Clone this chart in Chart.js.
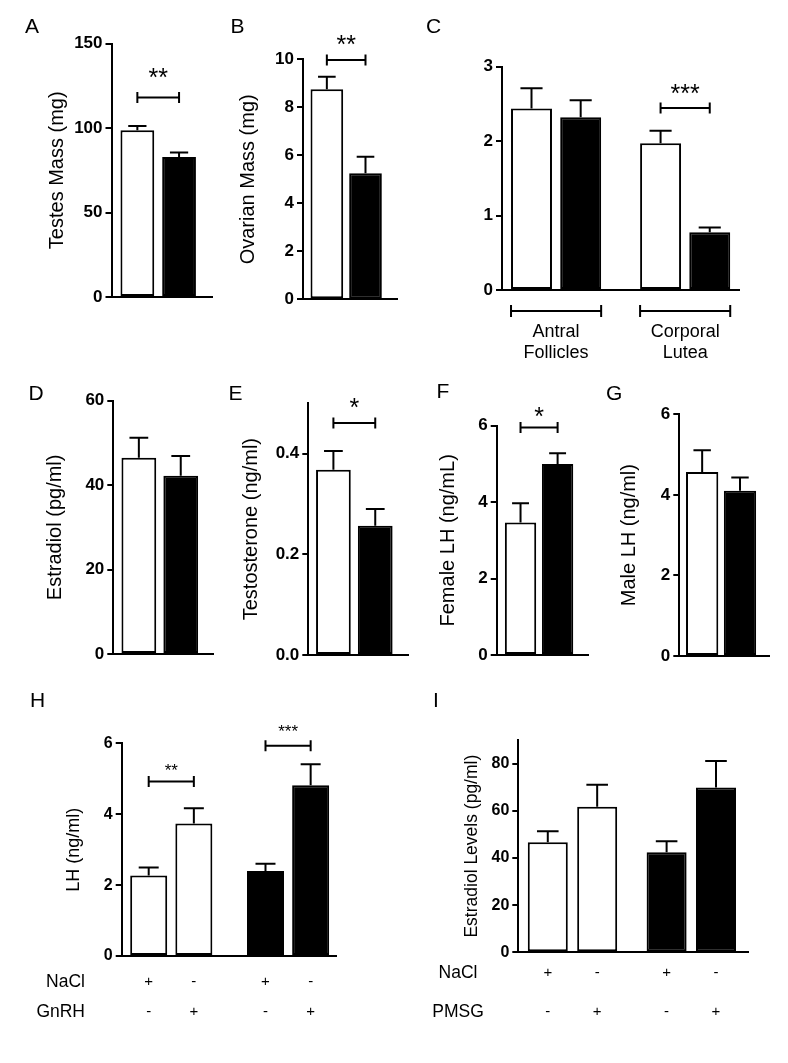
<!DOCTYPE html>
<html>
<head>
<meta charset="utf-8">
<script src="https://cdn.jsdelivr.net/npm/chart.js@4.4.1/dist/chart.umd.min.js"></script>
<style>
  html, body { margin: 0; padding: 0; background: #fff; }
  #fig { position: relative; width: 788px; height: 1063px; overflow: hidden; }
  #fig canvas { position: absolute; }
</style>
</head>
<body>
<div id="fig"></div>
<script>
// values are [control (white), mutant (black)]
// A - testes mass
const testesMass = [98.6, 82.9];
const testesSem = [2.6, 2.6];
const testesTicks = [0, 50, 100, 150];
// B - ovarian mass
const ovaryMass = [8.75, 5.25];
const ovarySem = [0.52, 0.69];
const ovaryTicks = [0, 2, 4, 6, 8, 10];
// C - ovarian structures
const structures = [['Antral', 'Follicles'], ['Corporal', 'Lutea']];
const structWhite = [2.44, 1.97];
const structWhiteSem = [0.27, 0.17];
const structBlack = [2.32, 0.775];
const structBlackSem = [0.23, 0.065];
const structTicks = [0, 1, 2, 3];
// D - estradiol
const estradiol = [46.5, 42.2];
const estradiolSem = [4.7, 4.7];
const estradiolTicks = [0, 20, 40, 60];
// E - testosterone
const testosterone = [0.368, 0.257];
const testosteroneSem = [0.037, 0.033];
const testosteroneTicks = [0, 0.2, 0.4];
// F - female LH
const femaleLH = [3.47, 5.0];
const femaleLHSem = [0.5, 0.28];
// G - male LH
const maleLH = [4.57, 4.10];
const maleLHSem = [0.54, 0.33];
const lhTicks = [0, 2, 4, 6];
// H - LH after GnRH challenge, [NaCl, GnRH]
const gnrhWhite = [2.27, 3.74];
const gnrhWhiteSem = [0.23, 0.43];
const gnrhBlack = [2.40, 4.82];
const gnrhBlackSem = [0.20, 0.59];
const naclRowH = ['+', '-', '+', '-'];
const gnrhRow = ['-', '+', '-', '+'];
// I - estradiol after PMSG, [NaCl, PMSG]
const pmsgWhite = [46.7, 61.7];
const pmsgWhiteSem = [4.6, 9.3];
const pmsgBlack = [42.4, 69.9];
const pmsgBlackSem = [4.7, 11.2];
const naclRowI = ['+', '-', '+', '-'];
const pmsgRow = ['-', '+', '-', '+'];
const e2Ticks = [0, 20, 40, 60, 80];

const FONT = "Arial, 'Liberation Sans', Helvetica, sans-serif";
const fig = document.getElementById('fig');

// one white bar and one black bar
function pair(vals, sems) {
  return [
    { x: [0], y: [vals[0]], e: [sems[0]], color: '#fff' },
    { x: [1], y: [vals[1]], e: [sems[1]], color: '#000' },
  ];
}

function extrasFor(p) {
  return {
    id: 'extras',
    afterDraw(chart) {
      const ctx = chart.ctx, xs = chart.scales.x, ys = chart.scales.y, ca = chart.chartArea;
      ctx.save();
      ctx.strokeStyle = '#000';
      ctx.fillStyle = '#000';
      ctx.lineWidth = 2;

      // error bars (upper only)
      const centers = [];
      chart.data.datasets.forEach((ds, di) => {
        chart.getDatasetMeta(di).data.forEach((bar, i) => {
          const top = ys.getPixelForValue(ds.data[i].y + ds.sem[i]);
          const half = bar.width * 0.27;
          ctx.beginPath();
          ctx.moveTo(bar.x, bar.y);
          ctx.lineTo(bar.x, top);
          ctx.moveTo(bar.x - half, top);
          ctx.lineTo(bar.x + half, top);
          ctx.stroke();
          centers.push(bar.x);
        });
      });

      // significance brackets
      (p.brackets || []).forEach(b => {
        const xa = xs.getPixelForValue(b.from), xb = xs.getPixelForValue(b.to);
        const y = ys.getPixelForValue(b.at);
        ctx.beginPath();
        ctx.moveTo(xa, y); ctx.lineTo(xb, y);
        ctx.moveTo(xa, y - 5.5); ctx.lineTo(xa, y + 5.5);
        ctx.moveTo(xb, y - 5.5); ctx.lineTo(xb, y + 5.5);
        ctx.stroke();
        ctx.font = b.size + 'px ' + FONT;
        ctx.textAlign = 'center';
        ctx.textBaseline = 'alphabetic';
        ctx.fillText(b.label, (xa + xb) / 2, y - b.gap + 0.59 * b.size);
      });

      // group brackets with labels under the axis (panel C)
      if (p.groups) {
        const w = chart.getDatasetMeta(0).data, k = chart.getDatasetMeta(1).data;
        p.groups.forEach((lines, g) => {
          const l = w[g].x - w[g].width / 2, r = k[g].x + k[g].width / 2;
          const y = ca.bottom + 21;
          ctx.beginPath();
          ctx.moveTo(l, y); ctx.lineTo(r, y);
          ctx.moveTo(l, y - 6); ctx.lineTo(l, y + 6);
          ctx.moveTo(r, y - 6); ctx.lineTo(r, y + 6);
          ctx.stroke();
          ctx.font = '18px ' + FONT;
          ctx.textAlign = 'center';
          ctx.textBaseline = 'alphabetic';
          lines.forEach((t, j) => ctx.fillText(t, (l + r) / 2, ca.bottom + 47 + j * 21));
        });
      }

      // treatment rows (+/-) under each bar (panels H, I)
      (p.rows || []).forEach(row => {
        const y = ca.bottom + row.dy;
        ctx.textBaseline = 'middle';
        ctx.font = '17.5px ' + FONT;
        ctx.textAlign = p.rowAlign;
        ctx.fillText(row.label, p.rowX - p.box.left, y);
        ctx.font = '15px ' + FONT;
        ctx.textAlign = 'center';
        row.signs.forEach((s, i) => ctx.fillText(s, centers[i], y));
      });

      // panel letter
      ctx.font = '21px ' + FONT;
      ctx.textAlign = 'left';
      ctx.textBaseline = 'alphabetic';
      ctx.fillText(p.letter.text, p.letter.x - p.box.left, p.letter.y - p.box.top);
      ctx.restore();
    }
  };
}

function drawPanel(p) {
  const cv = document.createElement('canvas');
  cv.width = p.box.w;
  cv.height = p.box.h;
  cv.style.left = p.box.left + 'px';
  cv.style.top = p.box.top + 'px';
  fig.appendChild(cv);
  const a = p.axis;
  const tickSize = p.tickSize || 17;
  const titleSize = p.titleSize || 20;

  new Chart(cv, {
    type: 'bar',
    data: {
      datasets: p.series.map(s => ({
        data: s.x.map((x, i) => ({ x: x, y: s.y[i] })),
        sem: s.e,
        backgroundColor: s.color,
        borderColor: '#000',
        borderWidth: 2,
        borderSkipped: false,
        grouped: false,
        categoryPercentage: 1,
        barPercentage: p.barPct,
      })),
    },
    options: {
      responsive: false,
      animation: false,
      events: [],
      layout: {
        autoPadding: false,
        padding: {
          left: 0,
          top: a.y0 - p.box.top,
          right: p.box.left + p.box.w - a.x1,
          bottom: p.box.top + p.box.h - a.y1,
        },
      },
      plugins: { legend: { display: false }, tooltip: { enabled: false } },
      scales: {
        x: {
          type: 'linear',
          min: p.xMin,
          max: p.xMax,
          offset: false,
          grid: { display: false },
          ticks: { display: false },
          border: { display: true, color: '#000', width: 2 },
          afterBuildTicks: s => { s.ticks = []; },
          afterFit: s => {
            s.height = 0;
            s.paddingLeft = s.paddingRight = s.paddingTop = s.paddingBottom = 0;
          },
        },
        y: {
          min: 0,
          max: p.yMax,
          grid: { drawOnChartArea: false, color: '#000', lineWidth: 2, tickLength: 6 },
          border: { color: '#000', width: 2 },
          ticks: {
            autoSkip: false,
            color: '#000',
            padding: 3,
            font: { family: FONT, size: tickSize, weight: 'bold' },
            callback: v => Number(v).toFixed(p.dec || 0),
          },
          afterBuildTicks: s => { s.ticks = p.yTicks.map(v => ({ value: v })); },
          afterFit: s => {
            s.width = a.x0 - p.box.left;
            s.paddingTop = s.paddingBottom = 0;
          },
          title: p.yTitle ? {
            display: true,
            text: p.yTitle,
            color: '#000',
            font: { family: FONT, size: titleSize, lineHeight: 1 },
            padding: { top: p.titleX - p.box.left - titleSize / 2, bottom: 0 },
          } : { display: false },
        },
      },
    },
    plugins: [extrasFor(p)],
  });
}

const panels = [
  {
    box: { left: 0, top: 0, w: 225, h: 320 },
    axis: { x0: 111.5, y0: 43.5, x1: 212, y1: 297 },
    yMax: 150, yTicks: testesTicks,
    yTitle: 'Testes Mass (mg)', titleX: 57,
    xMin: -0.62, xMax: 1.79, barPct: 0.81,
    series: pair(testesMass, testesSem),
    brackets: [{ from: 0, to: 1, at: 118, label: '**', gap: 26.5, size: 25 }],
    letter: { text: 'A', x: 25, y: 33 },
  },
  {
    box: { left: 225, top: 0, w: 185, h: 320 },
    axis: { x0: 303, y0: 59.3, x1: 397, y1: 299.3 },
    yMax: 10, yTicks: ovaryTicks,
    yTitle: 'Ovarian Mass (mg)', titleX: 248,
    xMin: -0.617, xMax: 1.815, barPct: 0.845,
    series: pair(ovaryMass, ovarySem),
    brackets: [{ from: 0, to: 1, at: 9.97, label: '**', gap: 22, size: 25 }],
    letter: { text: 'B', x: 230.5, y: 33 },
  },
  {
    box: { left: 410, top: 0, w: 378, h: 370 },
    axis: { x0: 502, y0: 66.7, x1: 739, y1: 290 },
    yMax: 3, yTicks: structTicks,
    xMin: -0.6, xMax: 4.22, barPct: 0.833,
    series: [
      { x: structures.map((_, g) => g * 2.625), y: structWhite, e: structWhiteSem, color: '#fff' },
      { x: structures.map((_, g) => g * 2.625 + 1), y: structBlack, e: structBlackSem, color: '#000' },
    ],
    brackets: [{ from: 2.625, to: 3.625, at: 2.444, label: '***', gap: 21, size: 25 }],
    groups: structures,
    letter: { text: 'C', x: 426, y: 33 },
  },
  {
    box: { left: 0, top: 370, w: 225, h: 300 },
    axis: { x0: 113.3, y0: 400.7, x1: 213, y1: 654 },
    yMax: 60, yTicks: estradiolTicks,
    yTitle: 'Estradiol (pg/ml)', titleX: 55,
    xMin: -0.61, xMax: 1.77, barPct: 0.83,
    series: pair(estradiol, estradiolSem),
    letter: { text: 'D', x: 28.5, y: 400 },
  },
  {
    box: { left: 225, top: 370, w: 190, h: 300 },
    axis: { x0: 308.3, y0: 403.3, x1: 408.3, y1: 655 },
    yMax: 0.5, yTicks: testosteroneTicks, dec: 1,
    yTitle: 'Testosterone (ng/ml)', titleX: 251.7,
    xMin: -0.6, xMax: 1.79, barPct: 0.83,
    series: pair(testosterone, testosteroneSem),
    brackets: [{ from: 0, to: 1, at: 0.461, label: '*', gap: 21.6, size: 25 }],
    letter: { text: 'E', x: 228.5, y: 400 },
  },
  {
    box: { left: 415, top: 370, w: 180, h: 300 },
    axis: { x0: 496.7, y0: 425.7, x1: 588, y1: 655 },
    yMax: 6, yTicks: lhTicks,
    yTitle: 'Female LH (ng/mL)', titleX: 448.8,
    xMin: -0.643, xMax: 1.82, barPct: 0.845,
    series: pair(femaleLH, femaleLHSem),
    brackets: [{ from: 0, to: 1, at: 5.95, label: '*', gap: 17.7, size: 25 }],
    letter: { text: 'F', x: 436.5, y: 398 },
  },
  {
    box: { left: 595, top: 370, w: 193, h: 300 },
    axis: { x0: 679.3, y0: 414.3, x1: 769.3, y1: 656 },
    yMax: 6, yTicks: lhTicks,
    yTitle: 'Male LH (ng/ml)', titleX: 629,
    xMin: -0.604, xMax: 1.774, barPct: 0.853,
    series: pair(maleLH, maleLHSem),
    letter: { text: 'G', x: 606, y: 399.5 },
  },
  {
    box: { left: 0, top: 670, w: 400, h: 393 },
    axis: { x0: 121.7, y0: 743.3, x1: 336.7, y1: 956 },
    yMax: 6, yTicks: lhTicks, tickSize: 16,
    yTitle: 'LH (ng/ml)', titleX: 74, titleSize: 18,
    xMin: -0.598, xMax: 4.164, barPct: 0.82,
    series: [
      { x: gnrhWhite.map((_, c) => c), y: gnrhWhite, e: gnrhWhiteSem, color: '#fff' },
      { x: gnrhBlack.map((_, c) => 2.587 + c), y: gnrhBlack, e: gnrhBlackSem, color: '#000' },
    ],
    brackets: [
      { from: 0, to: 1, at: 4.92, label: '**', gap: 16, size: 17 },
      { from: 2.587, to: 3.587, at: 5.93, label: '***', gap: 18.4, size: 17 },
    ],
    rows: [
      { label: 'NaCl', signs: naclRowH, dy: 25.7 },
      { label: 'GnRH', signs: gnrhRow, dy: 55.7 },
    ],
    rowAlign: 'right', rowX: 85,
    letter: { text: 'H', x: 30, y: 706.7 },
  },
  {
    box: { left: 400, top: 670, w: 388, h: 393 },
    axis: { x0: 518.3, y0: 740, x1: 748.3, y1: 952.3 },
    yMax: 90, yTicks: e2Ticks, tickSize: 16,
    yTitle: 'Estradiol Levels (pg/ml)', titleX: 472.5, titleSize: 17.5,
    xMin: -0.597, xMax: 4.06, barPct: 0.81,
    series: [
      { x: pmsgWhite.map((_, c) => c), y: pmsgWhite, e: pmsgWhiteSem, color: '#fff' },
      { x: pmsgBlack.map((_, c) => 2.406 + c), y: pmsgBlack, e: pmsgBlackSem, color: '#000' },
    ],
    rows: [
      { label: 'NaCl', signs: naclRowI, dy: 20.4 },
      { label: 'PMSG', signs: pmsgRow, dy: 59.4 },
    ],
    rowAlign: 'center', rowX: 458,
    letter: { text: 'I', x: 433, y: 706.7 },
  },
];

panels.forEach(drawPanel);
</script>
</body>
</html>
